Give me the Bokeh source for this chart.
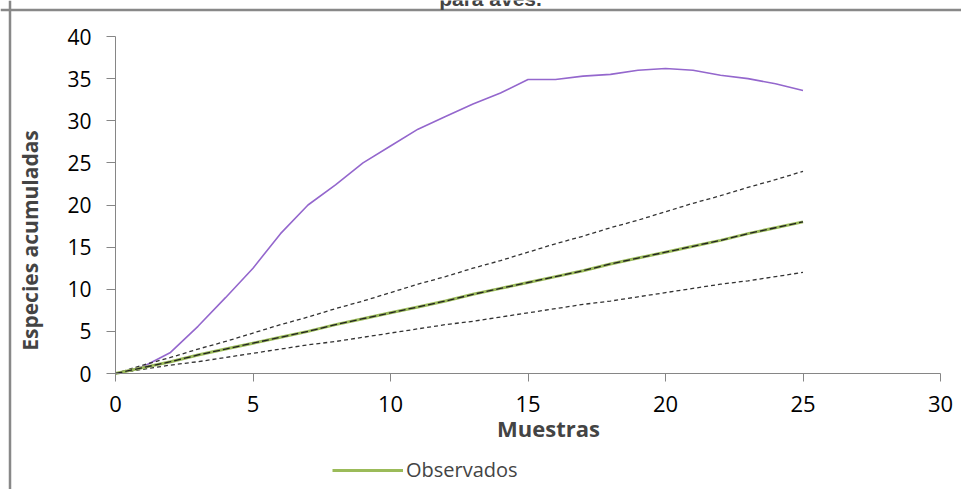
import math
from bokeh.plotting import figure
from bokeh.models import (Range1d, FixedTicker, Label, Span, Legend, LegendItem)
from bokeh.embed import file_html
from bokeh.resources import INLINE

# ---- data ----
muestras = list(range(0, 26))
chao = [0, 0.8, 2.5, 5.6, 9.0, 12.5, 16.6, 20.0, 22.4, 25.0, 27.0, 29.0, 30.5,
        32.0, 33.3, 34.9, 34.9, 35.3, 35.5, 36.0, 36.2, 36.0, 35.4, 35.0, 34.4, 33.6]
observados = [0, 0.7, 1.4, 2.2, 2.9, 3.6, 4.3, 5.0, 5.8, 6.5, 7.2, 7.9, 8.6,
              9.4, 10.1, 10.8, 11.5, 12.2, 13.0, 13.7, 14.4, 15.1, 15.8, 16.6, 17.3, 18.0]
ic_sup = [0, 1.0, 1.9, 2.9, 3.8, 4.8, 5.8, 6.7, 7.7, 8.6, 9.6, 10.6, 11.5,
          12.5, 13.4, 14.4, 15.4, 16.3, 17.3, 18.2, 19.2, 20.2, 21.1, 22.1, 23.0, 24.0]
ic_inf = [0, 0.5, 1.0, 1.4, 1.9, 2.4, 2.9, 3.4, 3.8, 4.3, 4.8, 5.3, 5.8,
          6.2, 6.7, 7.2, 7.7, 8.2, 8.6, 9.1, 9.6, 10.1, 10.6, 11.0, 11.5, 12.0]
x_ticks = [0, 5, 10, 15, 20, 25, 30]
y_ticks = [0, 5, 10, 15, 20, 25, 30, 35, 40]

W, H = 961, 489
# frame covers the whole canvas; axes are pinned at 0 (fixed_location)
X0, X1, Y0, Y1 = 115, 940, 373, 36          # pixel positions of axis ends
sx = (X1 - X0) / 30.0
sy = (Y0 - Y1) / 40.0
xr = Range1d(-X0 / sx, 30 + (W - X1) / sx)
yr = Range1d(-(H - Y0) / sy, 40 + Y1 / sy)

p = figure(width=W, height=H, output_backend="svg", toolbar_location=None,
           x_range=xr, y_range=yr,
           min_border_left=0, min_border_right=0, min_border_top=0, min_border_bottom=0)
p.outline_line_color = None
p.xgrid.visible = False
p.ygrid.visible = False
p.background_fill_color = "white"
p.border_fill_color = "white"

AX = "#868686"
FONT = "Open Sans"
for ax in (p.xaxis[0], p.yaxis[0]):
    ax.fixed_location = 0
    ax.axis_line_color = AX
    ax.major_tick_line_color = AX
    ax.minor_tick_line_color = None
    ax.major_tick_in = 0
    ax.major_label_text_font = FONT
    ax.major_label_text_color = "#000000"
p.xaxis[0].bounds = (0, 30)
p.yaxis[0].bounds = (0, 40)
p.xaxis[0].ticker = FixedTicker(ticks=x_ticks)
p.yaxis[0].ticker = FixedTicker(ticks=y_ticks)
p.xaxis[0].major_tick_out = 8
p.yaxis[0].major_tick_out = 9
p.xaxis[0].major_label_text_font_size = "22px"
p.yaxis[0].major_label_text_font_size = "21px"
p.xaxis[0].major_label_standoff = 14
p.yaxis[0].major_label_standoff = 15

# outer chart-area border (left and top visible); pixel edges converted to range units
bl, bt = 9.5, 9.5
p.add_layout(Span(location=xr.start + bl / sx, dimension="height",
                  line_color="#888888", line_width=2.5))
p.add_layout(Span(location=yr.end - bt / sy, dimension="width",
                  line_color="#888888", line_width=2.5))

# series
p.line(muestras, chao, line_color="#9467CD", line_width=1.6)
p.line(muestras, ic_sup, line_color="#333333", line_width=1.3, line_dash="4 3")
p.line(muestras, ic_inf, line_color="#333333", line_width=1.3, line_dash="4 3")
g = p.line(muestras, observados, line_color="#9BBB59", line_width=3)
p.line(muestras, observados, line_color="#222222", line_width=1.3, line_dash="7 3")

legend = Legend(items=[LegendItem(label="Observados", renderers=[g])],
                location=(332, 6), orientation="horizontal",
                border_line_color=None, background_fill_alpha=0,
                label_text_font=FONT, label_text_font_size="20px",
                glyph_width=71, glyph_height=20, label_standoff=3,
                padding=0, margin=0, spacing=0)
p.add_layout(legend, "center")

# axis titles and cut title (screen units = canvas, y from bottom)
p.add_layout(Label(x=29.5, y=H - 240, x_units="screen", y_units="screen",
                   text="Especies acumuladas", angle=math.pi / 2,
                   text_font=FONT, text_font_style="bold", text_font_size="21px",
                   text_align="center", text_baseline="middle"))
p.add_layout(Label(x=548, y=H - 427, x_units="screen", y_units="screen",
                   text="Muestras", text_font=FONT, text_font_style="bold",
                   text_font_size="22px", text_align="center", text_baseline="middle"))
p.add_layout(Label(x=490, y=H + 2, x_units="screen", y_units="screen",
                   text="para aves.", text_font="Liberation Sans", text_font_style="bold",
                   text_font_size="21px", text_align="center", text_baseline="alphabetic"))

open("out.html", "w").write(file_html(p, INLINE))
